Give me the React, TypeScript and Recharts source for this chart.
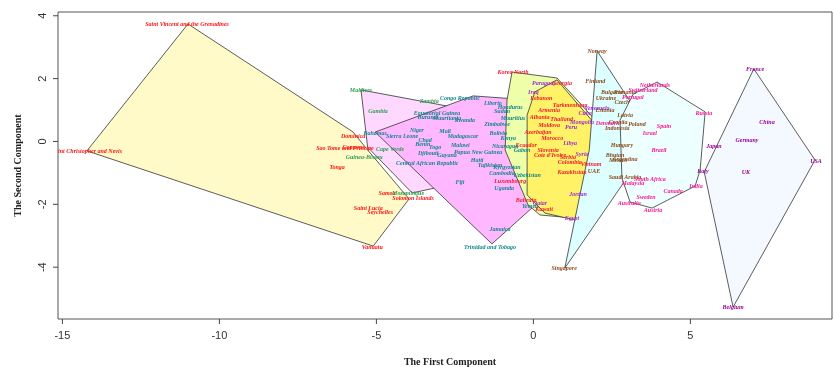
import React from 'react';
import { ComposedChart, Scatter, XAxis, YAxis, ReferenceArea, Label } from 'recharts';

const xTicks = [-15, -10, -5, 0, 5];
const yTicks = [-4, -2, 0, 2, 4];
const xDomain = [-15.14, 9.51];
const yDomain = [-5.65, 4.12];

// Cluster hulls (first component, second component)
const hull1 = [
  { x: -11.0, y: 3.74 }, { x: -5.74, y: 0.3 }, { x: -5.33, y: -0.21 }, { x: -3.96, y: -1.83 },
  { x: -5.1, y: -3.33 }, { x: -14.22, y: -0.3 }, { x: -11.0, y: 3.74 },
];
const hull2 = [
  { x: -5.49, y: 1.64 }, { x: -3.45, y: 1.26 }, { x: -1.76, y: 0.94 }, { x: -1.06, y: 0.53 },
  { x: -1.76, y: -0.84 }, { x: -2.27, y: -1.29 }, { x: -3.86, y: -1.64 }, { x: -5.28, y: -0.18 },
  { x: -5.49, y: 1.64 },
];
const hull3 = [
  { x: -5.04, y: 0.3 }, { x: -1.92, y: 1.45 }, { x: -0.1, y: 1.32 }, { x: 0.37, y: -1.7 },
  { x: 0.05, y: -2.03 }, { x: -1.32, y: -3.26 }, { x: -5.04, y: 0.3 },
];
const hull4 = [
  { x: -0.68, y: 2.21 }, { x: 0.75, y: 2.02 }, { x: 2.03, y: 0.62 }, { x: 1.33, y: -2.44 },
  { x: 0.21, y: -2.34 }, { x: -0.17, y: -2.02 }, { x: -0.9, y: -0.27 }, { x: -0.84, y: 1.32 },
  { x: -0.68, y: 2.21 },
];
const hull5 = [
  { x: 0.05, y: 1.58 }, { x: 0.75, y: 1.96 }, { x: 2.12, y: 0.37 }, { x: 1.87, y: -0.59 },
  { x: 1.33, y: -2.5 }, { x: 0.37, y: -2.28 }, { x: -0.2, y: -1.7 }, { x: -0.2, y: 0.84 },
  { x: 0.05, y: 1.58 },
];
const hull6 = [
  { x: 2.03, y: 2.88 }, { x: 3.85, y: 0.1 }, { x: 1.0, y: -4.03 }, { x: 1.78, y: -0.27 },
  { x: 2.03, y: 2.88 },
];
const hull7 = [
  { x: 3.94, y: 1.89 }, { x: 5.47, y: 0.94 }, { x: 5.31, y: -0.91 }, { x: 5.15, y: -1.42 },
  { x: 3.78, y: -2.12 }, { x: 3.08, y: -1.93 }, { x: 2.82, y: -1.16 }, { x: 2.76, y: 0.68 },
  { x: 3.18, y: 1.51 }, { x: 3.94, y: 1.89 },
];
const hull8 = [
  { x: 7.02, y: 2.31 }, { x: 8.97, y: -0.59 }, { x: 6.36, y: -5.27 }, { x: 5.44, y: -0.97 },
  { x: 7.02, y: 2.31 },
];

// Country labels per cluster
const cluster1 = [
  { x: -11.03, y: 3.74, name: 'Saint Vincent and the Grenadines' },
  { x: -14.22, y: -0.3, name: 'Saint Christopher and Nevis' },
  { x: -5.74, y: 0.18, name: 'Dominica' },
  { x: -6.0, y: -0.21, name: 'Sao Tome and Principe' },
  { x: -5.72, y: -0.19, name: 'Comoros' },
  { x: -6.25, y: -0.81, name: 'Tonga' },
  { x: -4.66, y: -1.64, name: 'Samoa' },
  { x: -3.83, y: -1.8, name: 'Solomon Islands' },
  { x: -5.26, y: -2.12, name: 'Saint Lucia' },
  { x: -4.88, y: -2.25, name: 'Seychelles' },
  { x: -5.13, y: -3.36, name: 'Vanuatu' },
];
const cluster2 = [
  { x: -5.49, y: 1.64, name: 'Maldives' },
  { x: -4.95, y: 0.97, name: 'Gambia' },
  { x: -5.39, y: -0.49, name: 'Guinea-Bissau' },
  { x: -4.56, y: -0.24, name: 'Cape Verde' },
  { x: -3.99, y: -1.64, name: 'Mozambique' },
  { x: -3.32, y: 1.29, name: 'Zambia' },
];
const cluster3 = [
  { x: -5.04, y: 0.27, name: 'Bahamas' },
  { x: -4.18, y: 0.18, name: 'Sierra Leone' },
  { x: -3.38, y: -0.68, name: 'Central African Republic' },
  { x: -2.34, y: 1.39, name: 'Congo Republic' },
  { x: -3.07, y: 0.91, name: 'Equatorial Guinea' },
  { x: -3.36, y: 0.78, name: 'Burundi' },
  { x: -2.75, y: 0.75, name: 'Mauritania' },
  { x: -2.18, y: 0.68, name: 'Rwanda' },
  { x: -3.71, y: 0.37, name: 'Niger' },
  { x: -2.81, y: 0.33, name: 'Mali' },
  { x: -2.24, y: 0.18, name: 'Madagascar' },
  { x: -3.45, y: 0.05, name: 'Chad' },
  { x: -3.52, y: -0.08, name: 'Benin' },
  { x: -3.13, y: -0.18, name: 'Togo' },
  { x: -2.33, y: -0.11, name: 'Malawi' },
  { x: -3.35, y: -0.37, name: 'Djibouti' },
  { x: -2.75, y: -0.43, name: 'Guyana' },
  { x: -1.76, y: -0.33, name: 'Papua New Guinea' },
  { x: -2.34, y: -1.29, name: 'Fiji' },
  { x: -1.79, y: -0.59, name: 'Haiti' },
  { x: -1.38, y: -0.75, name: 'Tajikistan' },
  { x: -0.84, y: -0.81, name: 'Kyrgyzstan' },
  { x: -1.0, y: -1.0, name: 'Cambodia' },
  { x: -0.93, y: -1.48, name: 'Uganda' },
  { x: -0.9, y: -0.14, name: 'Nicaragua' },
  { x: -0.36, y: -0.27, name: 'Gabon' },
  { x: -0.2, y: -1.07, name: 'Uzbekistan' },
  { x: -1.06, y: -2.79, name: 'Jamaica' },
  { x: -1.38, y: -3.36, name: 'Trinidad and Tobago' },
  { x: -1.29, y: 1.22, name: 'Liberia' },
  { x: -0.74, y: 1.09, name: 'Honduras' },
  { x: -1.0, y: 0.97, name: 'Sudan' },
  { x: -0.65, y: 0.74, name: 'Mauritius' },
  { x: -1.16, y: 0.55, name: 'Zimbabwe' },
  { x: -1.12, y: 0.27, name: 'Bolivia' },
  { x: -0.8, y: 0.1, name: 'Kenya' },
  { x: -0.1, y: -2.05, name: 'Yemen' },
];
const cluster4 = [
  { x: -0.65, y: 2.21, name: 'Korea North' },
  { x: -0.74, y: -1.26, name: 'Luxembourg' },
  { x: -0.23, y: -0.11, name: 'Ecuador' },
  { x: 0.53, y: -0.43, name: "Cote d'Ivoire" },
  { x: 0.47, y: -0.27, name: 'Slovenia' },
  { x: -0.23, y: -1.86, name: 'Bahrain' },
  { x: 0.34, y: -2.15, name: 'Kuwait' },
  { x: 1.1, y: -0.49, name: 'Serbia' },
  { x: 1.16, y: -0.65, name: 'Colombia' },
  { x: 1.84, y: -0.72, name: 'Vietnam' },
  { x: 1.23, y: -0.97, name: 'Kazakhstan' },
  { x: 0.91, y: 1.86, name: 'Georgia' },
  { x: 1.17, y: 1.16, name: 'Turkmenistan' },
  { x: 0.25, y: 1.38, name: 'Lebanon' },
  { x: 0.5, y: 1.0, name: 'Armenia' },
  { x: 0.2, y: 0.78, name: 'Albania' },
  { x: 0.5, y: 0.52, name: 'Moldova' },
  { x: 0.15, y: 0.3, name: 'Azerbaijan' },
  { x: 0.6, y: 0.1, name: 'Morocco' },
  { x: 0.9, y: 0.7, name: 'Thailand' },
];
const cluster5 = [
  { x: 0.34, y: 1.86, name: 'Paraguay' },
  { x: 0.0, y: 1.58, name: 'Iraq' },
  { x: 2.03, y: 1.07, name: 'Venezuela' },
  { x: 1.65, y: 0.91, name: 'Cuba' },
  { x: 1.55, y: 0.62, name: 'Mongolia' },
  { x: 1.17, y: -0.05, name: 'Libya' },
  { x: 1.55, y: -0.4, name: 'Syria' },
  { x: 1.42, y: -1.67, name: 'Jordan' },
  { x: 1.23, y: -2.44, name: 'Egypt' },
  { x: 0.21, y: -1.96, name: 'Qatar' },
  { x: 1.2, y: 0.45, name: 'Peru' },
];
const cluster6 = [
  { x: 2.03, y: 2.88, name: 'Norway' },
  { x: 1.97, y: 1.93, name: 'Finland' },
  { x: 2.5, y: 1.58, name: 'Bulgaria' },
  { x: 2.92, y: 1.58, name: 'Romania' },
  { x: 2.31, y: 1.39, name: 'Ukraine' },
  { x: 2.82, y: 1.26, name: 'Czech' },
  { x: 2.28, y: 1.0, name: 'Estonia' },
  { x: 2.92, y: 0.84, name: 'Latvia' },
  { x: 2.7, y: 0.62, name: 'Croatia' },
  { x: 3.3, y: 0.55, name: 'Poland' },
  { x: 2.67, y: 0.43, name: 'Indonesia' },
  { x: 2.82, y: -0.11, name: 'Hungary' },
  { x: 2.6, y: -0.43, name: 'Bhutan' },
  { x: 2.92, y: -0.56, name: 'Argentina' },
  { x: 2.7, y: -0.59, name: 'Mexico' },
  { x: 2.92, y: -1.13, name: 'Saudi Arabia' },
  { x: 1.93, y: -0.94, name: 'UAE' },
  { x: 0.98, y: -4.03, name: 'Singapore' },
];
const cluster7 = [
  { x: 3.87, y: 1.8, name: 'Netherlands' },
  { x: 3.49, y: 1.64, name: 'Switzerland' },
  { x: 3.17, y: 1.42, name: 'Portugal' },
  { x: 2.36, y: 0.59, name: 'Denmark' },
  { x: 4.16, y: 0.49, name: 'Spain' },
  { x: 3.71, y: 0.27, name: 'Israel' },
  { x: 4.0, y: -0.27, name: 'Brazil' },
  { x: 5.43, y: 0.9, name: 'Russia' },
  { x: 5.18, y: -1.42, name: 'India' },
  { x: 4.45, y: -1.59, name: 'Canada' },
  { x: 3.71, y: -1.2, name: 'South Africa' },
  { x: 3.17, y: -1.32, name: 'Malaysia' },
  { x: 3.59, y: -1.77, name: 'Sweden' },
  { x: 3.05, y: -1.96, name: 'Australia' },
  { x: 3.81, y: -2.18, name: 'Austria' },
];
const cluster8 = [
  { x: 7.06, y: 2.31, name: 'France' },
  { x: 7.44, y: 0.62, name: 'China' },
  { x: 6.8, y: 0.05, name: 'Germany' },
  { x: 5.75, y: -0.14, name: 'Japan' },
  { x: 5.4, y: -0.94, name: 'Italy' },
  { x: 6.77, y: -0.97, name: 'UK' },
  { x: 9.0, y: -0.62, name: 'USA' },
  { x: 6.36, y: -5.27, name: 'Belgium' },
];

const hulls = [
  { data: hull1, fill: '#FFFAC8' },
  { data: hull2, fill: '#FFD8FF' },
  { data: hull3, fill: '#FFB8FF' },
  { data: hull4, fill: '#EEFFAA' },
  { data: hull5, fill: '#FFF266' },
  { data: hull6, fill: '#DDFFFF' },
  { data: hull7, fill: '#EEFFFF' },
  { data: hull8, fill: '#F4F8FF' },
];

const clusters = [
  { data: cluster1, color: '#FF1010' },
  { data: cluster2, color: '#2E9E4E' },
  { data: cluster3, color: '#11868E' },
  { data: cluster4, color: '#F01830' },
  { data: cluster5, color: '#9A2BD8' },
  { data: cluster6, color: '#8B4A1A' },
  { data: cluster7, color: '#FF1493' },
  { data: cluster8, color: '#990099' },
];

const makeHullLine = (fill: string) => (props: any) => {
  const pts = (props.points || []).map((p: any) => `${p.x},${p.y}`).join(' ');
  return (
    <polygon
      points={pts}
      fill={fill}
      stroke="#333"
      strokeWidth={0.8}
      style={{ mixBlendMode: 'multiply' }}
    />
  );
};

const emptyShape = () => <g />;

const makeLabelShape = (color: string) => (props: any) => (
  <text
    x={props.cx}
    y={props.cy}
    textAnchor="middle"
    dominantBaseline="central"
    fill={color}
    fontSize={6}
    fontWeight="bold"
    fontStyle="italic"
    fontFamily="'Liberation Serif', 'DejaVu Serif', serif"
  >
    {props.payload.name}
  </text>
);

const XTick = (props: any) => (
  <text x={props.x} y={props.y + 13} textAnchor="middle" fontSize={11} fill="#333"
    fontFamily="'Liberation Sans', Arial, sans-serif">
    {props.payload.value}
  </text>
);

const YTick = (props: any) => {
  const x = props.x - 5;
  return (
    <text x={x} y={props.y} textAnchor="middle" fontSize={11} fill="#333"
      transform={`rotate(-90, ${x}, ${props.y})`}
      fontFamily="'Liberation Sans', Arial, sans-serif">
      {props.payload.value}
    </text>
  );
};

const XTitle = (props: any) => {
  const vb = props.viewBox || { x: 58, y: 319, width: 774 };
  return (
    <text x={vb.x + vb.width / 2 + 5} y={vb.y + 46} textAnchor="middle" fontSize={10}
      fontWeight="bold" fill="#222" fontFamily="'Liberation Serif', serif">
      The First Component
    </text>
  );
};

const YTitle = (props: any) => {
  const vb = props.viewBox || { x: 0, y: 12, height: 307 };
  const cx = 21;
  const cy = vb.y + vb.height / 2;
  return (
    <text x={cx} y={cy} textAnchor="middle" fontSize={10} fontWeight="bold" fill="#222"
      transform={`rotate(-90, ${cx}, ${cy})`} fontFamily="'Liberation Serif', serif">
      The Second Component
    </text>
  );
};

export default function App() {
  return (
    <div style={{ position: 'absolute', left: 0, top: 0, background: '#fff' }}>
      <ComposedChart width={834} height={367} margin={{ top: 12, right: 2, bottom: 0, left: 0 }}>
        <XAxis
          type="number"
          dataKey="x"
          domain={xDomain}
          ticks={xTicks}
          allowDataOverflow
          axisLine={false}
          tickSize={5}
          tickLine={{ stroke: '#444' }}
          tick={<XTick />}
          height={48}
        >
          <Label content={<XTitle />} />
        </XAxis>
        <YAxis
          type="number"
          dataKey="y"
          domain={yDomain}
          ticks={yTicks}
          allowDataOverflow
          axisLine={false}
          tickSize={5}
          tickLine={{ stroke: '#444' }}
          tick={<YTick />}
          width={58}
        >
          <Label content={<YTitle />} />
        </YAxis>
        {hulls.map((h, i) => (
          <Scatter
            key={'h' + i}
            data={h.data}
            line={makeHullLine(h.fill)}
            lineType="joint"
            shape={emptyShape}
            isAnimationActive={false}
          />
        ))}
        {clusters.map((c, i) => (
          <Scatter
            key={'c' + i}
            data={c.data}
            shape={makeLabelShape(c.color)}
            isAnimationActive={false}
          />
        ))}
        <ReferenceArea
          x1={xDomain[0]}
          x2={xDomain[1]}
          y1={yDomain[0]}
          y2={yDomain[1]}
          fill="none"
          fillOpacity={0}
          stroke="#555"
          strokeWidth={1}
          ifOverflow="visible"
        />
      </ComposedChart>
    </div>
  );
}
